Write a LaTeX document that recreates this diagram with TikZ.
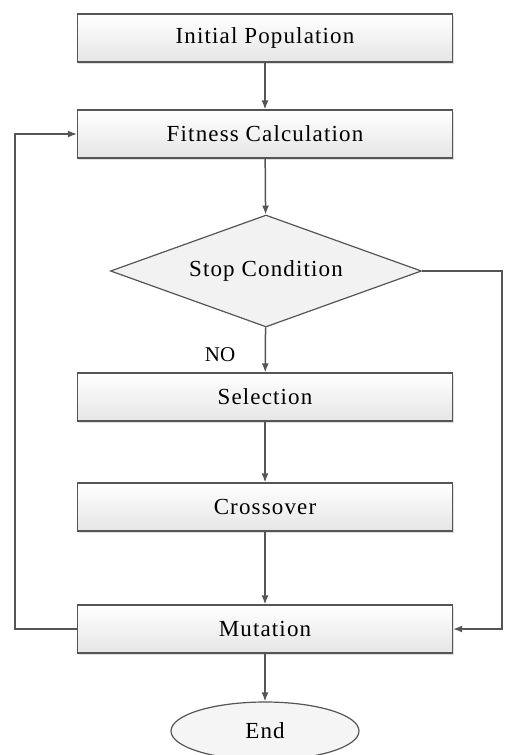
\documentclass[tikz,border=0pt]{standalone}
\usepackage{fontspec}
\setmainfont{Liberation Serif}
\newfontfamily\boxfont[LetterSpace=5]{Liberation Serif}
\usetikzlibrary{positioning, shapes.geometric, arrows.meta, shadows}

\definecolor{linegray}{HTML}{555555}

\tikzset{
    stepbox/.style={draw=linegray, line width=1.2pt, minimum width=375pt, minimum height=48pt,
        top color=white, bottom color=black!10, drop shadow={shadow xshift=1.5pt, shadow yshift=-1.5pt, opacity=0.25},
        font=\boxfont\fontsize{23}{27}\selectfont},
    decision/.style={diamond, aspect=2.8, draw=linegray, line width=1.2pt, minimum width=311pt, minimum height=112pt,
        inner sep=0pt, fill=black!5, font=\boxfont\fontsize{23}{27}\selectfont},
    terminal/.style={ellipse, draw=linegray, line width=1.2pt, minimum width=188pt, minimum height=58pt,
        fill=black!4, font=\boxfont\fontsize{23}{27}\selectfont},
    flow/.style={draw=linegray, line width=1.5pt, -{Latex[length=9pt, width=7pt]}}
}

\begin{document}
\begin{tikzpicture}[x=1pt, y=1pt]
    \useasboundingbox (0,0) rectangle (504,-755);

    \node[stepbox] (init) at (265,-38) {Initial Population};
    \node[stepbox] (fit) at (265,-134) {Fitness Calculation};
    \node[decision] (stop) at (266,-271) {Stop Condition};
    \node[stepbox] (sel) at (265,-397) {Selection};
    \node[stepbox] (cross) at (265,-507) {Crossover};
    \node[stepbox] (mut) at (265,-629) {Mutation};
    \node[terminal] (end) at (265,-731) {End};

    \coordinate (rt) at (502,-271);
    \coordinate (lt) at (15,-629);

    \draw[flow] (init) -- (fit);
    \draw[flow] (fit) -- (stop);
    \draw[flow] (stop) -- node[pos=0.6, left=26pt, font=\fontsize{21}{24}\selectfont] (no) {NO} (sel);
    \draw[flow] (sel) -- (cross);
    \draw[flow] (cross) -- (mut);
    \draw[flow] (mut) -- (end);

    % loop back and exit
    \draw[flow] (mut.west) -- (lt) |- (fit.west);
    \draw[flow] (stop.east) -- (rt) |- (mut.east);
\end{tikzpicture}
\end{document}
